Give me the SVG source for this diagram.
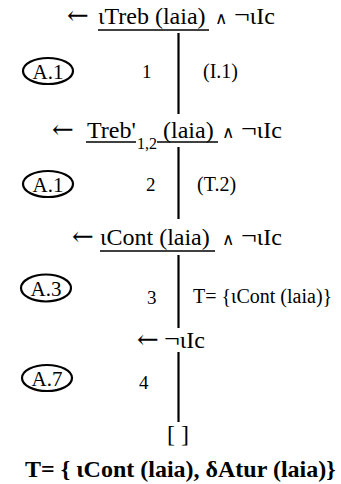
<svg xmlns="http://www.w3.org/2000/svg" width="341" height="484" viewBox="0 0 341 484">
<style>
  text { font-family: "Liberation Serif", "Times New Roman", serif; fill: #000; }
  .f { font-size: 24px; }
  .ar { font-family: "DejaVu Serif", serif; font-size: 26px; }
  .w { font-family: "DejaVu Sans", sans-serif; font-size: 17px; }
  .ng { font-size: 28px; }
  .s { font-size: 16px; }
  .m { font-size: 19px; }
  .l { font-size: 20px; }
  .b { font-size: 24px; font-weight: bold; }
  .ul { stroke: #000; stroke-width: 1.4; }
  .edge { stroke: #000; stroke-width: 2.2; fill: none; }
  .rule ellipse { fill: none; stroke: #000; stroke-width: 2.2; }
  .rule text { font-size: 21px; text-anchor: middle; }
</style>

<g id="goal1">
  <text class="f" y="24"><tspan class="ar" x="67">←</tspan><tspan x="98">ιTreb (laia)</tspan><tspan class="w" x="215">∧</tspan><tspan class="ng" x="234">¬</tspan><tspan>ιIc</tspan></text>
  <line class="ul" x1="98" y1="30" x2="209" y2="30"/>
</g>
<g id="goal2">
  <text class="f" y="138"><tspan class="ar" x="52">←</tspan><tspan x="87">Treb'</tspan><tspan class="s" x="137" y="149">1,2</tspan><tspan x="163" y="138">(laia)</tspan><tspan class="w" x="222">∧</tspan><tspan class="ng" x="241">¬</tspan><tspan>ιIc</tspan></text>
  <line class="ul" x1="86" y1="142" x2="136" y2="142"/>
  <line class="ul" x1="157" y1="142" x2="218" y2="142"/>
</g>
<g id="goal3">
  <text class="f" y="245"><tspan class="ar" x="72">←</tspan><tspan x="100">ιCont (laia)</tspan><tspan class="w" x="222">∧</tspan><tspan class="ng" x="241">¬</tspan><tspan>ιIc</tspan></text>
  <line class="ul" x1="100" y1="251" x2="215" y2="251"/>
</g>
<g id="goal4">
  <text class="f" y="348"><tspan class="ar" x="137">←</tspan><tspan class="ng" x="164">¬</tspan><tspan>ιIc</tspan></text>
</g>
<g id="empty">
  <text class="f" x="178" y="442" text-anchor="middle">[ ]</text>
</g>
<g id="result">
  <text class="b" x="25" y="477">T= { ιCont (laia), δAtur (laia)}</text>
</g>

<g id="rule1" class="rule"><ellipse cx="48" cy="71" rx="25" ry="13"/><text x="48" y="78.5">A.1</text></g>
<g id="rule2" class="rule"><ellipse cx="48" cy="184" rx="25" ry="13"/><text x="48" y="191.5">A.1</text></g>
<g id="rule3" class="rule"><ellipse cx="46" cy="288" rx="25" ry="13.5"/><text x="46" y="295.5">A.3</text></g>
<g id="rule4" class="rule"><ellipse cx="47" cy="378" rx="25" ry="13"/><text x="47" y="385.5">A.7</text></g>

<g id="edges">
  <line class="edge" x1="178.5" y1="33" x2="178.5" y2="114"/>
  <line class="edge" x1="178.5" y1="147" x2="178.5" y2="219"/>
  <line class="edge" x1="178.5" y1="255" x2="178.5" y2="328"/>
  <line class="edge" x1="178.5" y1="352" x2="178.5" y2="422"/>
</g>

<g id="labels">
  <text class="m" x="142" y="78">1</text>
  <text class="m" x="146" y="191">2</text>
  <text class="m" x="147" y="304">3</text>
  <text class="m" x="139" y="389">4</text>
  <text class="l" x="203" y="78">(I.1)</text>
  <text class="l" x="197" y="191">(T.2)</text>
  <text class="l" x="193" y="303">T= {ιCont (laia)}</text>
</g>
</svg>
